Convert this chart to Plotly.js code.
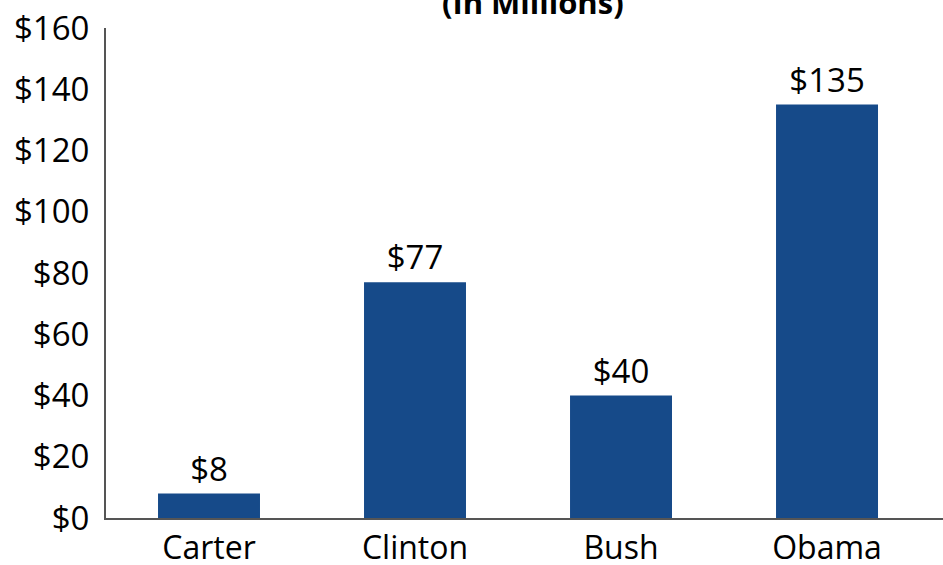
<!DOCTYPE html>
<html>
<head>
<meta charset="utf-8">
<script src="https://cdn.plot.ly/plotly-3.0.1.min.js"></script>
<style>html,body{margin:0;padding:0;background:#fff;}#chart{width:943px;height:565px;}</style>
</head>
<body>
<div id="chart"></div>
<script>
const categories = ["Carter", "Clinton", "Bush", "Obama"];
const amounts = [8, 77, 40, 135];
const labels = ["$8", "$77", "$40", "$135"];
const yTickVals = [0, 20, 40, 60, 80, 100, 120, 140, 160];
const yTickText = ["$0", "$20", "$40", "$60", "$80", "$100", "$120", "$140", "$160"];
const titleText = "<b>(In Millions)</b>";

const font = "Open Sans, Noto Sans, sans-serif";

Plotly.newPlot("chart", [{
  type: "bar",
  x: categories,
  y: amounts,
  text: labels,
  textposition: "outside",
  cliponaxis: false,
  textfont: {family: font, size: 33, color: "#000"},
  marker: {color: "#164a89"},
  width: 0.495,
  hoverinfo: "none"
}], {
  width: 943, height: 565,
  margin: {l: 106, r: 0, t: 28, b: 47},
  paper_bgcolor: "#fff", plot_bgcolor: "#fff",
  showlegend: false,
  title: {
    text: titleText,
    font: {family: font, size: 31, color: "#000"},
    x: 0.565, xanchor: "center",
    yref: "container", y: 1.008, yanchor: "bottom"
  },
  xaxis: {
    type: "category",
    range: [-0.5, 3.563],
    showgrid: false, zeroline: false,
    showline: true, linecolor: "#555", linewidth: 2,
    ticks: "",
    ticklabelstandoff: 1,
    tickfont: {family: font, size: 32, color: "#000"},
    fixedrange: true
  },
  yaxis: {
    range: [0, 160],
    tickvals: yTickVals, ticktext: yTickText,
    showgrid: false, zeroline: false,
    showline: true, linecolor: "#555", linewidth: 2,
    ticks: "",
    ticklabelstandoff: 8,
    tickfont: {family: font, size: 33, color: "#000"},
    fixedrange: true
  }
}, {displayModeBar: false, staticPlot: true});
</script>
</body>
</html>
